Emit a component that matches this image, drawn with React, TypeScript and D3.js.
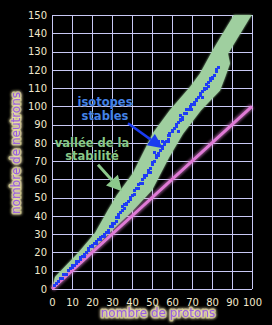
import React, { useEffect, useRef } from 'react';
import * as d3 from 'd3';

// tick values on both axes
const xTicks = [0, 10, 20, 30, 40, 50, 60, 70, 80, 90, 100];
const yTicks = [0, 10, 20, 30, 40, 50, 60, 70, 80, 90, 100, 110, 120, 130, 140, 150];

// valley of stability, upper (neutron rich) border then lower border, [Z, N]
const valleyUpper: [number, number][] = [
  [0, 0], [1.5, 6.6], [13, 19.7], [21.5, 30.7], [28, 43.2], [32.5, 51.4], [40.5, 63.5],
  [50.5, 85.4], [59, 98], [69, 110.6], [74, 118], [80.5, 131], [86, 141], [91, 150],
];
const valleyLower: [number, number][] = [
  [100, 150], [99, 148.6], [88, 128.8], [89, 123.4], [86.5, 115.8], [84, 108.7],
  [74.5, 97.8], [65.5, 85], [58.5, 72], [50, 54], [40.5, 43], [30, 32], [20, 21.5],
  [10, 11], [0, 0],
];

// stable isotopes: proton number and neutron number
const stableZ = [
  1, 2, 3, 4, 5, 6, 7, 8, 9, 10, 11, 12, 13, 14, 15, 16, 17, 18, 19, 20,
  21, 22, 23, 24, 25, 26, 27, 28, 29, 30, 31, 32, 33, 34, 35, 36, 37, 38, 39, 40,
  41, 42, 43, 44, 45, 46, 47, 48, 49, 50, 51, 52, 53, 54, 55, 56, 57, 58, 59, 60,
  61, 62, 63, 64, 65, 66, 67, 68, 69, 70, 71, 72, 73, 74, 75, 76, 77, 78, 79, 80,
  81, 82, 83,
];
const stableN = [
  2, 3, 4, 6, 6, 8, 8, 10, 11, 12, 13, 14, 15, 16, 18, 19, 20, 22, 23, 24,
  25, 26, 27, 28, 29, 30, 31, 32, 34, 34, 36, 37, 41, 42, 43, 46, 46, 48, 49, 51,
  52, 55, 55, 58, 58, 61, 62, 65, 66, 69, 70, 73, 74, 76, 78, 79, 81, 84, 85, 87,
  88, 90, 91, 93, 94, 96, 96, 98, 100, 101, 102, 104, 105, 107, 108, 110, 110, 113, 114, 116,
  117, 119, 121,
];
// second isotopes that make the steps of the line, plus a few scattered ones
const extraZ = [
  10, 12, 14, 16, 18, 20, 22, 24, 26, 28, 30, 32, 33, 35, 37, 39, 41, 43, 45, 46,
  48, 50, 52, 53, 55, 56, 58, 59, 61, 62, 64, 65, 67, 69, 71, 72, 74, 76, 77, 79,
  80, 82, 36, 49, 53, 51, 55, 58, 60, 63, 64, 70, 75, 78,
];
const extraN = [
  13, 15, 17, 18, 21, 23, 25, 27, 29, 31, 36, 39, 39, 45, 47, 50, 54, 57, 60, 62,
  64, 68, 72, 73, 77, 80, 82, 84, 88, 89, 92, 93, 98, 99, 101, 103, 106, 109, 112, 115,
  115, 120, 44, 64, 81, 75, 81, 81, 86, 86, 95, 98, 105, 111,
];

const W = 272;
const H = 325;
const FONT = 'DejaVu Sans, Verdana, sans-serif';

const App: React.FC = () => {
  const svgRef = useRef<SVGSVGElement | null>(null);

  useEffect(() => {
    document.body.style.margin = '0';
    document.body.style.background = '#000';

    const svg = d3.select(svgRef.current!);
    svg.selectAll('*').remove();

    const x = d3.scaleLinear().domain([0, 100]).range([52, 252]);
    const y = d3.scaleLinear().domain([0, 150]).range([289, 15]);

    const defs = svg.append('defs');
    // soft halo: blurred copy of the (stroked) text under the sharp one
    const glow = defs
      .append('filter')
      .attr('id', 'glow')
      .attr('color-interpolation-filters', 'sRGB')
      .attr('x', '-20%')
      .attr('y', '-60%')
      .attr('width', '140%')
      .attr('height', '220%');
    glow.append('feGaussianBlur').attr('in', 'SourceGraphic').attr('stdDeviation', 1.6).attr('result', 'blur');
    const merge = glow.append('feMerge');
    merge.append('feMergeNode').attr('in', 'blur');
    merge.append('feMergeNode').attr('in', 'blur');
    merge.append('feMergeNode').attr('in', 'SourceGraphic');

    const soft = defs.append('filter').attr('id', 'soft');
    soft.append('feGaussianBlur').attr('stdDeviation', 1.2);

    // grid
    const grid = svg.append('g').attr('stroke', '#c8c8f4').attr('stroke-width', 1);
    grid
      .selectAll('line.v')
      .data(xTicks)
      .enter()
      .append('line')
      .attr('x1', (d) => Math.round(x(d)) + 0.5)
      .attr('x2', (d) => Math.round(x(d)) + 0.5)
      .attr('y1', y(0))
      .attr('y2', y(150));
    grid
      .selectAll('line.h')
      .data(yTicks)
      .enter()
      .append('line')
      .attr('y1', (d) => Math.round(y(d)) + 0.5)
      .attr('y2', (d) => Math.round(y(d)) + 0.5)
      .attr('x1', x(0))
      .attr('x2', x(100));

    // tick labels
    const xAxis = d3.axisBottom(x).tickValues(xTicks).tickSize(0).tickPadding(10);
    const yAxis = d3.axisLeft(y).tickValues(yTicks).tickSize(0).tickPadding(5);
    const gx = svg.append('g').attr('transform', `translate(0, ${y(0)})`).call(xAxis);
    const gy = svg.append('g').attr('transform', `translate(${x(0)}, 0)`).call(yAxis);
    [gx, gy].forEach((g) => {
      g.select('.domain').remove();
      g.selectAll('text').attr('fill', '#f2e8cc').style('font-family', FONT).style('font-size', '10px');
    });

    // valley band
    const band = d3
      .line<[number, number]>()
      .x((d) => x(d[0]))
      .y((d) => y(d[1]))
      .curve(d3.curveLinearClosed);
    svg
      .append('path')
      .attr('d', band([...valleyUpper, ...valleyLower]))
      .attr('fill', '#9fcf9f')
      .attr('filter', 'url(#soft)');
    svg
      .append('path')
      .attr('d', band([...valleyUpper, ...valleyLower]))
      .attr('fill', '#9fcf9f');

    // N = Z line
    const nz = d3
      .line<number>()
      .x((d) => x(d))
      .y((d) => y(d));
    svg
      .append('path')
      .attr('d', nz([0, 100]))
      .attr('stroke', '#e080d8')
      .attr('stroke-width', 6)
      .attr('stroke-opacity', 0.5)
      .attr('filter', 'url(#soft)')
      .attr('fill', 'none');
    svg
      .append('path')
      .attr('d', nz([0, 100]))
      .attr('stroke', '#e07ad6')
      .attr('stroke-width', 3)
      .attr('fill', 'none');

    // stable isotopes
    const pts = stableZ.map((z, i) => [z, stableN[i]]).concat(extraZ.map((z, i) => [z, extraN[i]]));
    svg
      .append('g')
      .selectAll('rect')
      .data(pts)
      .enter()
      .append('rect')
      .attr('x', (d) => Math.round(x(d[0]) - 1.5))
      .attr('y', (d) => Math.round(y(d[1]) - 1.5))
      .attr('width', 3)
      .attr('height', 3)
      .attr('fill', '#1e3cf4');

    // arrows
    const arrow = (from: [number, number], to: [number, number], color: string, w: number, len: number, half: number) => {
      const x0 = x(from[0]);
      const y0 = y(from[1]);
      const x1 = x(to[0]);
      const y1 = y(to[1]);
      const a = Math.atan2(y1 - y0, x1 - x0);
      const bx = x1 - len * Math.cos(a);
      const by = y1 - len * Math.sin(a);
      svg
        .append('line')
        .attr('x1', x0)
        .attr('y1', y0)
        .attr('x2', bx)
        .attr('y2', by)
        .attr('stroke', color)
        .attr('stroke-width', w);
      svg
        .append('path')
        .attr(
          'd',
          `M${x1},${y1}L${bx + half * Math.sin(a)},${by - half * Math.cos(a)}L${bx - half * Math.sin(a)},${by + half * Math.cos(a)}Z`
        )
        .attr('fill', color);
    };
    arrow([23, 68], [35, 53.5], '#8cc88c', 3, 15, 8);
    arrow([38, 90.7], [55.5, 77], '#1a3cf0', 2.5, 15, 7);

    // annotations
    const note = (lines: string[], zx: number, ny: number[], color: string) => {
      lines.forEach((t, i) => {
        svg
          .append('text')
          .attr('x', x(zx))
          .attr('y', y(ny[i]))
          .attr('text-anchor', 'middle')
          .attr('fill', color)
          .attr('stroke', '#000')
          .attr('stroke-width', 0.6)
          .attr('paint-order', 'stroke')
          .style('font-family', FONT)
          .style('font-weight', 'bold')
          .style('font-size', '11.5px')
          .text(t);
      });
    };
    note(['isotopes', 'stables'], 26.5, [100, 92.3], '#4482e6');
    note(['vallée de la', 'stabilité'], 20, [77.8, 70.6], '#88c888');

    // axis titles, purple with a pale yellow glow
    const title = (t: string, tx: number, ty: number, rot: number) => {
      svg
        .append('text')
        .attr('transform', `translate(${tx},${ty}) rotate(${rot})`)
        .attr('text-anchor', 'middle')
        .attr('fill', '#9a5fe0')
        .attr('stroke', '#f4f0a0')
        .attr('stroke-opacity', 0.55)
        .attr('stroke-width', 3)
        .attr('stroke-linejoin', 'round')
        .attr('paint-order', 'stroke')
        .attr('filter', 'url(#glow)')
        .style('font-family', FONT)
        .style('font-size', '12px')
        .text(t);
    };
    title('nombre de protons', (x(0) + x(100)) / 2 + 6, 317, 0);
    title('nombre de neutrons', 20, y(75) + 1, -90);
  }, []);

  return <svg ref={svgRef} width={W} height={H} style={{ display: 'block', background: '#000' }} />;
};

export default App;
